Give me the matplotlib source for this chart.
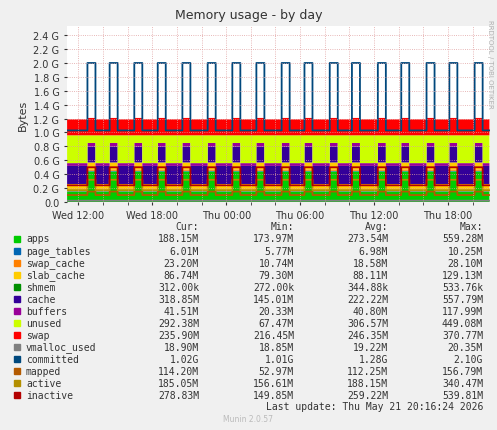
import numpy as np
import matplotlib
matplotlib.use("Agg")
import matplotlib.pyplot as plt
from matplotlib.ticker import FuncFormatter, MultipleLocator

G = 1024**3
# spike start times, hours from Wed 12:00
spike_starts = [0.75, 2.55, 4.55, 6.45, 8.45, 10.5, 12.5, 14.45, 16.5, 18.35,
                20.4, 22.2, 24.3, 26.2, 28.25, 30.1, 32.15]
spike_len = 0.65
t_start, t_end = -0.9, 33.4

# (base, peak) values in GB
stack_names = ["apps", "page_tables", "swap_cache", "slab_cache", "shmem", "cache", "buffers", "unused", "swap"]
stack_colors = ["#00CC00", "#0066B3", "#FF8000", "#FFCC00", "#008F00", "#330099", "#990099", "#CCFF00", "#FF0000"]
stack_base = [0.15, 0.006, 0.018, 0.085, 0.0003, 0.26, 0.04, 0.40, 0.23]
stack_peak = [0.44, 0.009, 0.02, 0.10, 0.0004, 0.23, 0.05, 0.11, 0.25]

line_names = ["vmalloc_used", "committed", "mapped", "active", "inactive"]
line_colors = ["#808080", "#00487D", "#B35A00", "#B38F00", "#B30000"]
line_base = [0.019, 1.03, 0.10, 0.17, 0.24]
line_peak = [0.020, 2.0, 0.15, 0.32, 0.50]

cur = ["188.15M", "6.01M", "23.20M", "86.74M", "312.00k", "318.85M", "41.51M", "292.38M", "235.90M", "18.90M", "1.02G", "114.20M", "185.05M", "278.83M"]
mn = ["173.97M", "5.77M", "10.74M", "79.30M", "272.00k", "145.01M", "20.33M", "67.47M", "216.45M", "18.85M", "1.01G", "52.97M", "156.61M", "149.85M"]
avg = ["273.54M", "6.98M", "18.58M", "88.11M", "344.88k", "222.22M", "40.80M", "306.57M", "246.35M", "19.22M", "1.28G", "112.25M", "188.15M", "259.22M"]
mx = ["559.28M", "10.25M", "28.10M", "129.13M", "533.76k", "557.79M", "117.99M", "449.08M", "370.77M", "20.35M", "2.10G", "156.79M", "340.47M", "539.81M"]

xticks = [0, 6, 12, 18, 24, 30]
xlabels = ["Wed 12:00", "Wed 18:00", "Thu 00:00", "Thu 06:00", "Thu 12:00", "Thu 18:00"]

t = np.arange(t_start, t_end, 0.05)
busy = np.zeros_like(t, dtype=bool)
for s in spike_starts:
    busy |= (t >= s) & (t < s + spike_len)

fig = plt.figure(figsize=(4.97, 4.31), dpi=100, facecolor="#F0F0F0")
ax = fig.add_axes([0.135, 0.529, 0.851, 0.408], facecolor="white")
vals = [np.where(busy, p, b) * G for b, p in zip(stack_base, stack_peak)]
ax.stackplot(t, vals, colors=stack_colors, linewidth=0, step="post")
for n, c, b, p in zip(line_names, line_colors, line_base, line_peak):
    ax.step(t, np.where(busy, p, b) * G, where="post", color=c, lw=1.3)

ax.set_xlim(t_start, t_end)
ax.set_ylim(0, 2.53 * G)
ax.yaxis.set_major_locator(MultipleLocator(0.2 * G))
ax.yaxis.set_major_formatter(FuncFormatter(lambda v, p: "0.0" if v == 0 else f"{v/G:.1f} G"))
ax.set_xticks(xticks)
ax.set_xticklabels(xlabels)
ax.xaxis.set_minor_locator(MultipleLocator(2))
ax.tick_params(labelsize=7, colors="#333333", length=2, which="both")
ax.grid(True, which="both", color="#E0A0A0", ls=":", lw=0.6)
ax.set_axisbelow(False)
for s in ax.spines.values():
    s.set_visible(False)
ax.set_ylabel("Bytes", fontsize=8, color="#333333")
fig.text(0.5, 0.965, "Memory usage - by day", ha="center", va="center", fontsize=9, color="#333333")
fig.text(0.985, 0.85, "RRDTOOL / TOBI OETIKER", rotation=270, fontsize=5, color="#B0B0B0", ha="center", va="center")

mono = "DejaVu Sans Mono"
def fy(y): return 1 - y / 431
for x, h in zip([199, 294, 388, 483], ["Cur:", "Min:", "Avg:", "Max:"]):
    fig.text(x / 497, fy(227), h, ha="right", va="center", fontsize=7, family=mono, color="#333333")
names = stack_names + line_names
colors = stack_colors + line_colors
for i, (n, c) in enumerate(zip(names, colors)):
    y = 239.5 + i * 12.03
    fig.patches.append(plt.Rectangle((14 / 497, fy(y + 3)), 6 / 497, 6 / 431, transform=fig.transFigure, color=c))
    fig.text(26 / 497, fy(y), n, ha="left", va="center", fontsize=7, family=mono, color="#333333")
    for x, v in zip([199, 294, 388, 483], [cur[i], mn[i], avg[i], mx[i]]):
        fig.text(x / 497, fy(y), v, ha="right", va="center", fontsize=7, family=mono, color="#333333")
fig.text(483 / 497, fy(407.5), "Last update: Thu May 21 20:16:24 2026", ha="right", va="center", fontsize=7, family=mono, color="#333333")
fig.text(248 / 497, fy(420), "Munin 2.0.57", ha="center", va="center", fontsize=5.5, color="#BBBBBB")
fig.savefig("out.png", dpi=100, facecolor=fig.get_facecolor())
